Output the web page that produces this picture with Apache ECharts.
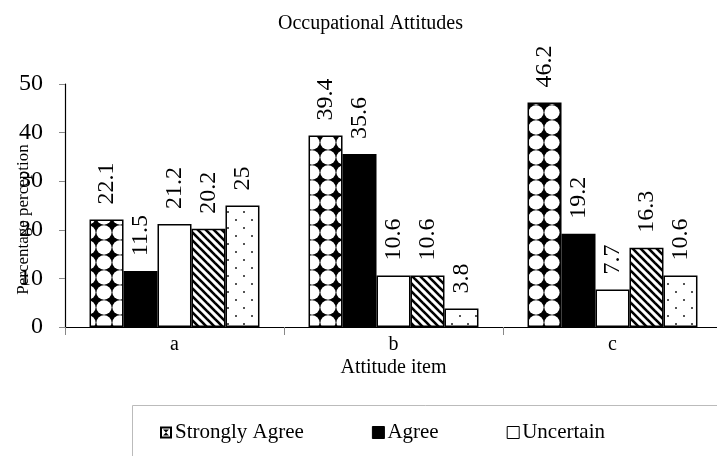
<!DOCTYPE html>
<html>
<head>
<meta charset="utf-8">
<script src="https://cdn.jsdelivr.net/npm/echarts@6/dist/echarts.min.js"></script>
<style>html,body{margin:0;padding:0;background:#fff}#c{width:717px;height:456px}</style>
</head>
<body>
<div id="c"></div>
<script>
const categories = ['a', 'b', 'c'];
const seriesNames = ['Strongly Agree', 'Agree', 'Uncertain', 'Disagree', 'Strongly Disagree'];
const stronglyAgree = [22.1, 39.4, 46.2];
const agree = [11.5, 35.6, 19.2];
const uncertain = [21.2, 10.6, 7.7];
const disagree = [20.2, 10.6, 16.3];
const stronglyDisagree = [25, 3.8, 10.6];
const yTicks = [0, 10, 20, 30, 40, 50];
const legendShown = ['Strongly Agree', 'Agree', 'Uncertain'];

const FONT = "'Liberation Serif', 'Times New Roman', serif";

function tile(w, h, draw) {
  const c = document.createElement('canvas');
  c.width = w; c.height = h;
  const ctx = c.getContext('2d');
  draw(ctx, w, h);
  return { image: c, repeat: 'repeat' };
}
const patDiamond = tile(16, 15, (ctx, w, h) => {
  ctx.fillStyle = '#000'; ctx.fillRect(0, 0, w, h);
  ctx.fillStyle = '#fff';
  ctx.beginPath(); ctx.ellipse(w / 2, h / 2, 7.6, 7.2, 0, 0, Math.PI * 2); ctx.fill();
});
const patStripe = tile(8, 8, (ctx, w, h) => {
  ctx.fillStyle = '#fff'; ctx.fillRect(0, 0, w, h);
  ctx.strokeStyle = '#000'; ctx.lineWidth = 2.6;
  for (let k = -2; k <= 2; k++) {
    ctx.beginPath(); ctx.moveTo(k * w - 2, -2); ctx.lineTo(k * w + w + 2, h + 2); ctx.stroke();
  }
});
const patDots = tile(16, 16, (ctx, w, h) => {
  ctx.fillStyle = '#fff'; ctx.fillRect(0, 0, w, h);
  ctx.fillStyle = '#555';
  ctx.fillRect(3, 3, 2, 2);
  ctx.fillRect(11, 11, 2, 2);
});
const fills = [patDiamond, '#000', '#fff', patStripe, patDots];
const values = [stronglyAgree, agree, uncertain, disagree, stronglyDisagree];

const series = seriesNames.map((name, i) => ({
  name: name,
  type: 'bar',
  data: values[i],
  barGap: '0%',
  barCategoryGap: '22.4%',
  itemStyle: { color: fills[i], borderColor: '#000', borderWidth: 1.5 },
  label: {
    show: true, position: 'top', rotate: 90, align: 'left', verticalAlign: 'middle',
    distance: 15, color: '#000', fontFamily: FONT, fontSize: 24
  }
}));

const legendIcons = [
  'path://M0,0H12V12H0Z M2,2V10H10V2Z M3,3L6,6L9,3Z M3,9L6,6L9,9Z',
  'rect', 'rect'
];
const legendData = legendShown.map((n, i) => ({
  name: n,
  icon: legendIcons[i],
  itemStyle: i === 0 ? { color: '#000', borderWidth: 0 } : undefined
}));

const chart = echarts.init(document.getElementById('c'), null, { renderer: 'canvas' });
chart.setOption({
  animation: false,
  backgroundColor: '#fff',
  title: {
    text: 'Occupational Attitudes', left: 273, top: 9,
    textStyle: { fontFamily: FONT, fontSize: 20, fontWeight: 'normal', color: '#000' }
  },
  graphic: [{
    type: 'rect', left: 130, top: 403, silent: true,
    shape: { width: 640, height: 80 },
    style: { fill: 'none', stroke: '#bbb', lineWidth: 1 }
  }],
  legend: {
    data: legendData,
    left: 160, top: 422,
    padding: 0,
    itemWidth: 12, itemHeight: 12, itemGap: 68,
    itemStyle: { borderColor: '#000', borderWidth: 1 },
    textStyle: { fontFamily: FONT, fontSize: 21, color: '#000', padding: [0, 0, 0, -2] }
  },
  grid: { left: 65, right: -5, top: 84, bottom: 129, containLabel: false, outerBoundsMode: 'none' },
  xAxis: {
    type: 'category', data: categories,
    name: 'Attitude item', nameLocation: 'middle', nameGap: 31, nameMoveOverlap: false,
    nameTextStyle: { fontFamily: FONT, fontSize: 20, color: '#000' },
    axisLine: { lineStyle: { color: '#000', width: 1.2 } },
    axisTick: { show: true, length: 8, lineStyle: { color: '#888' } },
    axisLabel: { fontFamily: FONT, fontSize: 20, color: '#000', margin: 8 }
  },
  yAxis: {
    type: 'value', min: yTicks[0], max: yTicks[yTicks.length - 1], interval: 10,
    name: 'Percentage perception', nameLocation: 'middle', nameGap: 33, nameMoveOverlap: false,
    nameTextStyle: { fontFamily: FONT, fontSize: 17, color: '#000', padding: [0, 28, 0, 0] },
    splitLine: { show: false },
    axisLine: { show: true, lineStyle: { color: '#000', width: 1.2 } },
    axisTick: { show: true, length: 6, lineStyle: { color: '#888' } },
    axisLabel: { fontFamily: FONT, fontSize: 24, color: '#000', margin: 22 }
  },
  series: series
});
</script>
</body>
</html>
